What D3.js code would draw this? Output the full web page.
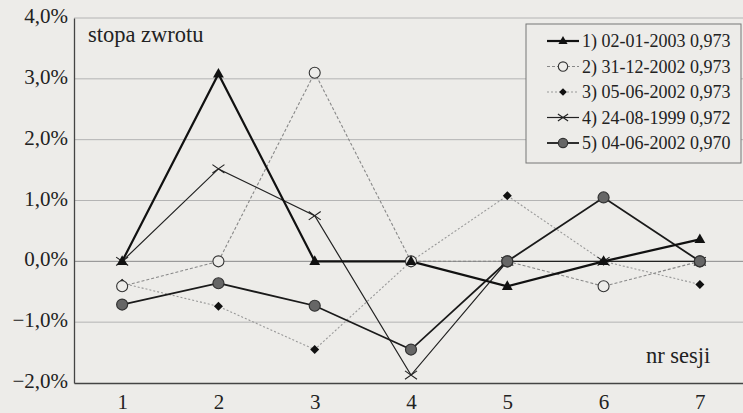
<!DOCTYPE html>
<html><head><meta charset="utf-8">
<script src="https://cdn.jsdelivr.net/npm/d3@7"></script>
<style>
html,body{margin:0;padding:0;background:#edece9;}
svg{display:block;}
</style></head>
<body>
<svg id="c" width="743" height="413" font-family="Liberation Serif" style="font-family:'Liberation Serif'"></svg>
<script>
const sessions = [1,2,3,4,5,6,7];
const yTicks = [-2,-1,0,1,2,3,4];
const seriesNames = ["1) 02-01-2003 0,973","2) 31-12-2002 0,973","3) 05-06-2002 0,973","4) 24-08-1999 0,972","5) 04-06-2002 0,970"];
const s1 = [0.0, 3.08, 0.0, 0.0, -0.41, 0.0, 0.36];
const s2 = [-0.41, 0.0, 3.1, 0.0, 0.0, -0.41, 0.0];
const s3 = [-0.36, -0.74, -1.45, 0.0, 1.08, 0.0, -0.38];
const s4 = [0.0, 1.52, 0.75, -1.87, 0.0, 0.0, 0.0];
const s5 = [-0.71, -0.36, -0.73, -1.45, 0.0, 1.05, 0.0];
const seriesValues = [s1,s2,s3,s4,s5];

const styles = [
  {stroke:"#111", width:2.2, dash:null, marker:"triangle"},
  {stroke:"#888", width:1.1, dash:"3,2", marker:"opencircle"},
  {stroke:"#999", width:1.1, dash:"2,2", marker:"diamond"},
  {stroke:"#222", width:1.2, dash:null, marker:"cross"},
  {stroke:"#1a1a1a", width:1.8, dash:null, marker:"dotcircle"}
];

const FONT = '"Liberation Serif"';
const svg = d3.select("#c");
const mLeft = 74, mRight = 748, mTop = 18, mBottom = 383;
const x = d3.scalePoint().domain(sessions).range([mLeft, mRight]).padding(0.5);
const y = d3.scaleLinear().domain([-2,4]).range([mBottom, mTop]);

function serif(sel){ return sel.attr("font-family","Liberation Serif").style("font-family",FONT); }

// gridlines
svg.append("g").selectAll("line").data(yTicks.filter(d=>d>-2)).join("line")
  .attr("x1",mLeft).attr("x2",743).attr("y1",d=>y(d)).attr("y2",d=>y(d))
  .attr("stroke",d=>d===0?"#8a8a8a":"#b4b4b4").attr("stroke-width",1);

// axes
const yAxis = d3.axisLeft(y).tickValues(yTicks).tickSize(0).tickPadding(6)
  .tickFormat(d=>(d<0?"\u2212":"")+Math.abs(d).toFixed(1).replace(".",",")+"%");
const gy = svg.append("g").attr("transform",`translate(${mLeft},0)`).call(yAxis);
serif(gy);
gy.select(".domain").attr("stroke","#444").attr("stroke-width",1.3);
serif(gy.selectAll(".tick text").attr("font-size",21).attr("dy","0.22em").attr("fill","#222"));

const xAxis = d3.axisBottom(x).tickSize(0);
const gx = svg.append("g").attr("transform",`translate(0,${mBottom})`).call(xAxis);
serif(gx);
gx.select(".domain").attr("stroke","#444").attr("stroke-width",1.3);
serif(gx.selectAll(".tick text").attr("font-size",21).attr("y",26).attr("dy",0).attr("fill","#222"));

// labels
serif(svg.append("text").attr("x",88).attr("y",42).attr("font-size",22.5).attr("fill","#222")).text("stopa zwrotu");
serif(svg.append("text").attr("x",646).attr("y",363).attr("font-size",22.5).attr("fill","#222")).text("nr sesji");

function marker(g, type, cx, cy, size){
  size = size||1;
  if(type==="triangle"){
    const s=6*size;
    g.append("path").attr("d",`M${cx},${cy-s}L${cx+s*0.9},${cy+s*0.6}L${cx-s*0.9},${cy+s*0.6}Z`).attr("fill","#111");
  } else if(type==="opencircle"){
    g.append("circle").attr("cx",cx).attr("cy",cy).attr("r",5.5*size).attr("fill","#edece9").attr("stroke","#333").attr("stroke-width",1.1);
  } else if(type==="diamond"){
    const s=4.5*size;
    g.append("path").attr("d",`M${cx},${cy-s}L${cx+s},${cy}L${cx},${cy+s}L${cx-s},${cy}Z`).attr("fill","#111");
  } else if(type==="cross"){
    const s=6*size;
    g.append("path").attr("d",`M${cx-s},${cy-s*0.7}L${cx+s},${cy+s*0.7}M${cx-s},${cy+s*0.7}L${cx+s},${cy-s*0.7}`).attr("stroke","#222").attr("stroke-width",1.1);
  } else if(type==="dotcircle"){
    g.append("circle").attr("cx",cx).attr("cy",cy).attr("r",5.5*size).attr("fill","#666").attr("stroke","#333").attr("stroke-width",1.2);
  }
}

const line = d3.line().x((d,i)=>x(sessions[i])).y(d=>y(d));
const order = [2,1,3,4,0];
order.forEach(k=>{
  const st = styles[k];
  svg.append("path").datum(seriesValues[k]).attr("d",line).attr("fill","none")
    .attr("stroke",st.stroke).attr("stroke-width",st.width).attr("stroke-dasharray",st.dash);
});
order.forEach(k=>{
  const st = styles[k];
  const g = svg.append("g");
  seriesValues[k].forEach((v,i)=>marker(g, st.marker, x(sessions[i]), y(v)));
});

// legend
const lg = svg.append("g");
lg.append("rect").attr("x",526).attr("y",24).attr("width",215).attr("height",139)
  .attr("fill","#edece9").attr("stroke","#777").attr("stroke-width",1);
seriesNames.forEach((name,k)=>{
  const st = styles[k];
  const yy = 41 + k*25.5;
  lg.append("line").attr("x1",547).attr("x2",579).attr("y1",yy).attr("y2",yy)
    .attr("stroke",st.stroke).attr("stroke-width",st.width).attr("stroke-dasharray",st.dash);
  marker(lg, st.marker, 563, yy, 0.85);
  serif(lg.append("text").attr("x",582).attr("y",yy+6).attr("font-size",18).attr("fill","#222")).text(name);
});
</script>
</body></html>
